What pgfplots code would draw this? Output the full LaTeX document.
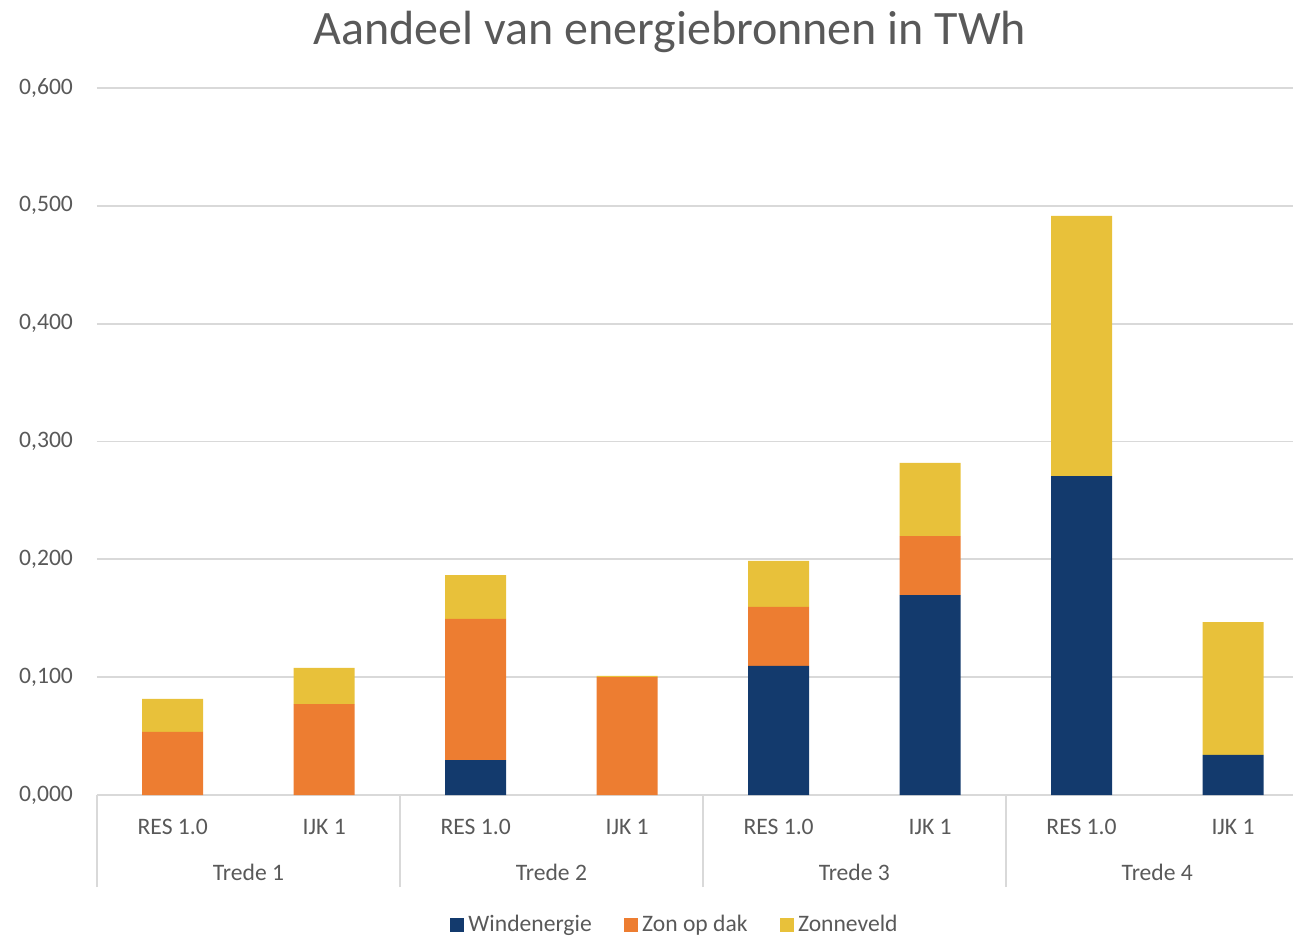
\documentclass[border=0pt]{standalone}
\usepackage{fontspec}
\setmainfont{Carlito}
\usepackage{pgfplots}
\pgfplotsset{compat=1.18}
\definecolor{wind}{HTML}{133A6D}
\definecolor{dak}{HTML}{ED7D31}
\definecolor{veld}{HTML}{E8C13A}
\definecolor{txt}{HTML}{595959}
\definecolor{grd}{HTML}{D9D9D9}
\begin{document}
\begin{tikzpicture}
\begin{axis}[
  at={(0,0)}, anchor=south west,
  scale only axis, width=598pt, height=353.5pt,
  xmin=-0.5, xmax=7.396, ymin=0, ymax=0.6,
  ybar stacked, bar width=30.5pt,
  clip=false,
  axis line style={draw=none},
  xtick pos=bottom, ytick pos=left,
  ymajorgrids, grid style={draw=grd, line width=0.9pt},
  ytick={0,0.1,0.2,0.3,0.4,0.5,0.6},
  yticklabel style={/pgf/number format/fixed, /pgf/number format/fixed zerofill, /pgf/number format/precision=3, /pgf/number format/use comma, /pgf/number format/assume math mode=true},
  yticklabel style={font=\fontsize{11.8}{14}\selectfont, text=txt, xshift=-8.5pt},
  xtick={0,...,7},
  xticklabels={RES 1.0, IJK 1, RES 1.0, IJK 1, RES 1.0, IJK 1, RES 1.0, IJK 1},
  xticklabel style={font=\fontsize{11.8}{14}\selectfont, text=txt, anchor=base, yshift=-19.5pt},
  major tick length=0pt,
  extra x ticks={-0.5,1.5,3.5,5.5},
  extra x tick labels={},
  extra x tick style={grid=none, xtick pos=bottom, major tick length=46pt, tick align=outside, tick style={draw=grd, line width=0.9pt}},
  legend style={draw=none, fill=none, at={(axis description cs:0.484,0)}, anchor=center, yshift=-65pt,
    legend columns=3, font=\fontsize{11.8}{14}\selectfont, text=txt,
    /tikz/every even column/.append style={column sep=14pt}},
  legend cell align=left,
]
\addplot[fill=wind, draw=none, legend image code/.code={\fill[wind] (0pt,-3.6pt) rectangle (7.2pt,3.6pt);}]
  coordinates {(0,0) (1,0) (2,0.0297) (3,0) (4,0.1095) (5,0.1697) (6,0.2707) (7,0.034)};
\addplot[fill=dak, draw=none, legend image code/.code={\fill[dak] (0pt,-3.6pt) rectangle (7.2pt,3.6pt);}]
  coordinates {(0,0.0535) (1,0.0772) (2,0.1197) (3,0.1001) (4,0.0501) (5,0.0501) (6,0) (7,0)};
\addplot[fill=veld, draw=none, legend image code/.code={\fill[veld] (0pt,-3.6pt) rectangle (7.2pt,3.6pt);}]
  coordinates {(0,0.028) (1,0.0306) (2,0.0373) (3,0.001) (4,0.039) (5,0.062) (6,0.2207) (7,0.1128)};
\legend{Windenergie, Zon op dak, Zonneveld}
\node[anchor=base, text=txt, font=\fontsize{11.8}{14}\selectfont] at (axis cs:0.5,0) [yshift=-42.5pt] {Trede 1};
\node[anchor=base, text=txt, font=\fontsize{11.8}{14}\selectfont] at (axis cs:2.5,0) [yshift=-42.5pt] {Trede 2};
\node[anchor=base, text=txt, font=\fontsize{11.8}{14}\selectfont] at (axis cs:4.5,0) [yshift=-42.5pt] {Trede 3};
\node[anchor=base, text=txt, font=\fontsize{11.8}{14}\selectfont] at (axis cs:6.5,0) [yshift=-42.5pt] {Trede 4};
\node[anchor=center, text=txt, font=\fontsize{24}{28}\selectfont] at (axis description cs:0.479,1) [yshift=28pt] {Aandeel van energiebronnen in TWh};
\end{axis}
\pgfresetboundingbox
\path[use as bounding box] (-48.5pt,-70.5pt) rectangle (598pt,397.5pt);
\end{tikzpicture}
\end{document}
